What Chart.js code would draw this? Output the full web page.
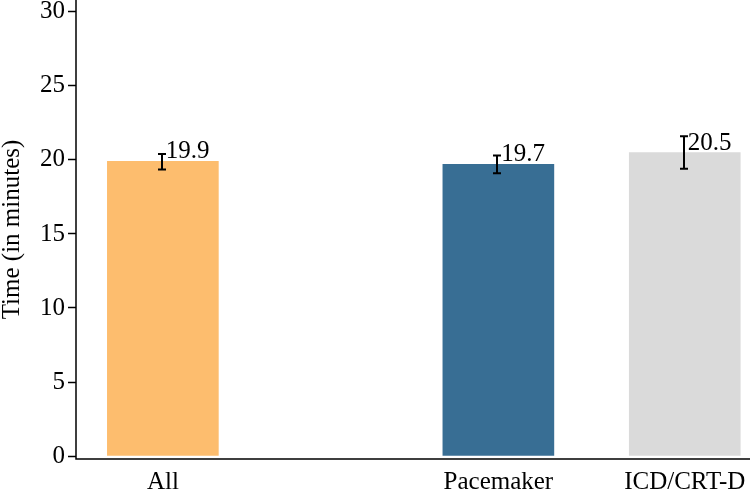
<!DOCTYPE html>
<html>
<head>
<meta charset="utf-8">
<script src="https://cdn.jsdelivr.net/npm/chart.js@4.4.1/dist/chart.umd.min.js"></script>
<style>
  html, body { margin: 0; padding: 0; background: #fff; }
  #wrap { width: 750px; height: 497px; }
</style>
</head>
<body>
<div id="wrap"><canvas id="chart" width="750" height="497"></canvas></div>
<script>
// data
const groups   = ["All", "Pacemaker", "ICD/CRT-D"];
const means    = [19.9, 19.7, 20.5];
const errLow   = [19.35, 19.1, 19.4];
const errHigh  = [20.4, 20.3, 21.6];
const yTicks   = [0, 5, 10, 15, 20, 25, 30];
const barColors = ["#FDBD6E", "#386E94", "#DADADA"];

// the original leaves a wider gap between "All" and the device groups
const slots = [0, 1.8, 2.8];
const FONT = "'Liberation Serif', 'Times New Roman', serif";
const FS = 25;

const extrasPlugin = {
  id: "extras",
  afterDatasetsDraw(chart) {
    const { ctx, scales: { x, y } } = chart;
    ctx.save();
    ctx.strokeStyle = "#000";
    ctx.fillStyle = "#000";
    ctx.lineWidth = 2;
    groups.forEach((g, i) => {
      const cx = Math.round(x.getPixelForValue(slots[i])) - 1;
      const top = y.getPixelForValue(errHigh[i]);
      const bot = y.getPixelForValue(errLow[i]);
      ctx.beginPath();
      ctx.moveTo(cx, top); ctx.lineTo(cx, bot);
      ctx.moveTo(cx - 4, top); ctx.lineTo(cx + 4, top);
      ctx.moveTo(cx - 4, bot); ctx.lineTo(cx + 4, bot);
      ctx.stroke();
    });
    ctx.font = FS + "px " + FONT;
    ctx.textAlign = "left";
    ctx.textBaseline = "alphabetic";
    groups.forEach((g, i) => {
      const cx = x.getPixelForValue(slots[i]);
      const ty = y.getPixelForValue(means[i]);
      ctx.fillText(means[i].toFixed(1), cx + 3, ty - 3);
    });
    // axis lines
    const a = chart.chartArea;
    ctx.lineWidth = 1.5;
    ctx.beginPath();
    ctx.moveTo(a.left, 0); ctx.lineTo(a.left, a.bottom);
    ctx.lineTo(chart.width, a.bottom);
    ctx.stroke();
    ctx.restore();
  }
};

new Chart(document.getElementById("chart"), {
  type: "bar",
  data: {
    datasets: [{
      data: groups.map((g, i) => ({ x: slots[i], y: means[i] })),
      backgroundColor: barColors,
      borderWidth: 0,
      barThickness: 111
    }]
  },
  options: {
    responsive: false,
    animation: false,
    devicePixelRatio: 1,
    layout: { padding: 0 },
    plugins: { legend: { display: false }, tooltip: { enabled: false } },
    scales: {
      x: {
        type: "linear",
        min: -0.466,
        max: 3.15,
        offset: false,
        afterBuildTicks: s => { s.ticks = slots.map(v => ({ value: v })); },
        afterFit: s => { s.height = 38; s.paddingLeft = 0; s.paddingRight = 0; },
        border: { display: false },
        grid: { display: false, drawTicks: false },
        ticks: {
          autoSkip: false,
          maxRotation: 0,
          padding: 8,
          color: "#000",
          font: { family: FONT, size: FS },
          callback: (v, i) => groups[i]
        }
      },
      y: {
        min: -0.2,
        max: 30.8,
        afterBuildTicks: s => { s.ticks = yTicks.map(v => ({ value: v })); },
        afterFit: s => { s.width = 76; s.paddingTop = 0; s.paddingBottom = 0; },
        border: { display: false },
        grid: { drawOnChartArea: false, drawTicks: true, tickLength: 8, tickColor: "#000", tickWidth: 1.5 },
        ticks: {
          padding: 3,
          color: "#000",
          font: { family: FONT, size: FS }
        },
        title: {
          display: true,
          text: "Time (in minutes)",
          color: "#000",
          font: { family: FONT, size: FS, lineHeight: 1 },
          padding: { top: 0, bottom: 0 }
        }
      }
    }
  },
  plugins: [extrasPlugin]
});
</script>
</body>
</html>
